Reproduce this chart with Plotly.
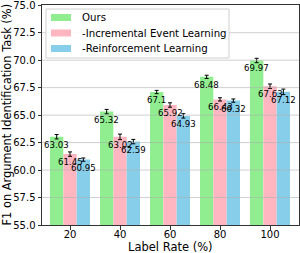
import plotly.graph_objects as go

label_rates = [20, 40, 60, 80, 100]
series_names = ["Ours", "-Incremental Event Learning", "-Reinforcement Learning"]
ours = [63.03, 65.32, 67.1, 68.48, 69.97]
no_incremental = [61.45, 63.02, 65.92, 66.43, 67.63]
no_reinforcement = [60.95, 62.59, 64.93, 66.32, 67.12]
ours_err = [0.2, 0.2, 0.15, 0.15, 0.2]
no_incremental_err = [0.2, 0.25, 0.2, 0.15, 0.2]
no_reinforcement_err = [0.15, 0.2, 0.2, 0.15, 0.25]
y_ticks = [55.0, 57.5, 60.0, 62.5, 65.0, 67.5, 70.0, 72.5, 75.0]

colors = ["#90EE90", "#FFB6C1", "#87CEEB"]
FONT = "DejaVu Sans"

W, H = 300, 253
ML, MR, MT, MB = 42, 1, 5, 28
PW, PH = W - ML - MR, H - MT - MB


def px(xp):
    return (xp - ML) / PW


def py(yp):
    return (H - MB - yp) / PH


series = [ours, no_incremental, no_reinforcement]
errors = [ours_err, no_incremental_err, no_reinforcement_err]

fig = go.Figure()
for name, vals, errs, col in zip(series_names, series, errors, colors):
    fig.add_trace(go.Bar(
        x=label_rates, y=vals, name=name, showlegend=False, hoverinfo="skip",
        marker=dict(color=col, line=dict(width=0)),
        error_y=dict(type="data", array=errs, color="black", thickness=1, width=2),
    ))

bargap = 0.2
step = 20
bar_w = step * (1 - bargap) / 3
annotations = []
for i, vals in enumerate(series):
    for xr, v in zip(label_rates, vals):
        annotations.append(dict(
            x=xr + (i - 1) * bar_w, y=v, text=f"{v:g}", showarrow=False,
            xanchor="center", yanchor="top", yshift=-1,
            font=dict(family=FONT, size=8.6, color="black"),
        ))

shapes = []
for t in y_ticks[1:-1]:
    shapes.append(dict(type="line", xref="paper", x0=0, x1=1, yref="y", y0=t, y1=t,
                       line=dict(color="rgba(176,176,176,0.75)", width=0.8), layer="above"))

# custom legend
shapes.append(dict(type="rect", xref="paper", yref="paper",
                   x0=px(46), x1=px(229), y0=py(58), y1=py(9),
                   fillcolor="rgba(255,255,255,0.85)", line=dict(color="#d0d0d0", width=1),
                   layer="above"))
row_y = [17.5, 33, 48.5]
for name, col, ry in zip(series_names, colors, row_y):
    shapes.append(dict(type="rect", xref="paper", yref="paper",
                       x0=px(51), x1=px(71), y0=py(ry + 3.5), y1=py(ry - 3.5),
                       fillcolor=col, line=dict(width=0), layer="above"))
    annotations.append(dict(xref="paper", yref="paper", x=px(80), y=py(ry), text=name,
                            showarrow=False, xanchor="left", yanchor="middle",
                            font=dict(family=FONT, size=10.2, color="black")))

# axis titles
annotations.append(dict(xref="paper", yref="paper", x=0.5, y=py(246.5), text="Label Rate (%)",
                        showarrow=False, xanchor="center", yanchor="middle",
                        font=dict(family=FONT, size=11.5, color="black")))
annotations.append(dict(xref="paper", yref="paper", x=px(6.5), y=0.5,
                        text="F1 on Argument Identification Task (%)", textangle=-90,
                        showarrow=False, xanchor="center", yanchor="middle",
                        font=dict(family=FONT, size=11.4, color="black")))

fig.update_layout(
    width=W, height=H,
    margin=dict(l=ML, r=MR, t=MT, b=MB),
    paper_bgcolor="white", plot_bgcolor="white",
    barmode="group", bargap=bargap, bargroupgap=0,
    font=dict(family=FONT, size=10, color="black"),
    showlegend=False,
    annotations=annotations,
    shapes=shapes,
    xaxis=dict(range=[8.8, 111.6], tickvals=label_rates, ticks="outside", ticklen=3.5,
               tickwidth=0.8, tickcolor="black", showline=True, linecolor="#333333", linewidth=1,
               mirror=True, showgrid=False, zeroline=False, automargin=False,
               ticklabeloverflow="allow", ticklabelstandoff=-4, tickfont=dict(size=10)),
    yaxis=dict(range=[55, 75.02], tickmode="array", tickvals=y_ticks,
               ticktext=[f"{t:.1f}" for t in y_ticks],
               ticks="outside", ticklen=3.5, tickwidth=0.8, tickcolor="black",
               showline=True, linecolor="#333333", linewidth=1, mirror=True,
               showgrid=False, zeroline=False, automargin=False,
               ticklabeloverflow="allow", tickfont=dict(size=10)),
)

fig.write_html(
    "out.html",
    config={"displayModeBar": False, "staticPlot": True},
    post_script="document.body.style.margin='0';document.body.style.overflow='hidden';",
)
